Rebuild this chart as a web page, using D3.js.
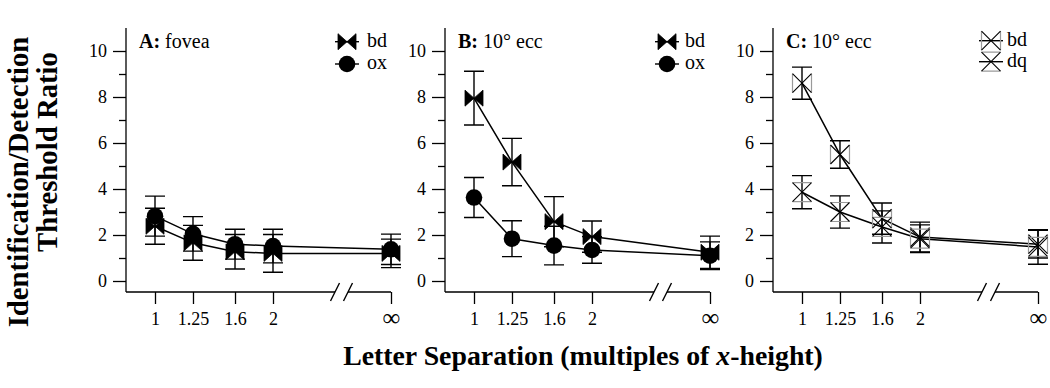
<!DOCTYPE html>
<html><head><meta charset="utf-8">
<script src="https://cdn.jsdelivr.net/npm/d3@7"></script>
<style>
body{margin:0;background:#fff}
svg{display:block}
text{font-family:"Liberation Serif","DejaVu Serif",serif;fill:#000}
</style>
</head><body>
<svg id="chart" width="1050" height="388"></svg>
<script>
// ---------- data ----------
const categories = ["1", "1.25", "1.6", "2", "\u221E"];
const xPositions = [1, 1.25, 1.6, 2, 4];   // "∞" is drawn beyond the axis break
const breakValue = 3;
const yTickValues = [0,1,2,3,4,5,6,7,8,9,10];
const yLabelValues = [0,2,4,6,8,10];

const foveaBd    = [2.38, 1.66, 1.27, 1.20, 1.20];
const foveaBdErr = [0.78, 0.76, 0.75, 0.82, 0.62];
const foveaOx    = [2.82, 2.05, 1.60, 1.52, 1.38];
const foveaOxErr = [0.87, 0.75, 0.65, 0.73, 0.66];

const eccBd    = [7.95, 5.17, 2.58, 1.93, 1.25];
const eccBdErr = [1.17, 1.03, 1.09, 0.68, 0.70];
const eccOx    = [3.63, 1.84, 1.54, 1.35, 1.10];
const eccOxErr = [0.87, 0.78, 0.84, 0.58, 0.60];

const eccCBd    = [8.60, 5.50, 2.71, 1.91, 1.60];
const eccCBdErr = [0.70, 0.60, 0.68, 0.65, 0.60];
const eccCDq    = [3.86, 3.00, 2.35, 1.84, 1.48];
const eccCDqErr = [0.72, 0.70, 0.70, 0.60, 0.75];

const panelLetters = ["A:", "B:", "C:"];
const panelNames = ["fovea", "10\u00B0 ecc", "10\u00B0 ecc"];
const yTitle = ["Identification/Detection", "Threshold Ratio"];
const xTitleParts = ["Letter Separation (multiples of ", "x", "-height)"];

// ---------- layout ----------
const svg = d3.select("#chart");
const yTop = 28, xAxisY = 292;
const y = d3.scaleLinear().domain([0, 10]).range([281, 51]);

const panels = [
  {left: 126, legX: 221, legTX: 241, legY: [41.7, 64],
   series: [{name:"bd", v: foveaBd, e: foveaBdErr, m:"bowtieFilled"},
            {name:"ox", v: foveaOx, e: foveaOxErr, m:"circle"}]},
  {left: 445, legX: 222, legTX: 240, legY: [41.7, 64],
   series: [{name:"bd", v: eccBd, e: eccBdErr, m:"bowtieFilled"},
            {name:"ox", v: eccOx, e: eccOxErr, m:"circle"}]},
  {left: 773, legX: 218, legTX: 234, legY: [40.7, 61.7],
   series: [{name:"bd", v: eccCBd, e: eccCBdErr, m:"bowtieOpen"},
            {name:"dq", v: eccCDq, e: eccCDqErr, m:"hourglassOpen"}]}
];

function drawMarker(g, type, cx, cy) {
  const t = `translate(${cx},${cy})`;
  if (type === "bowtieFilled") {
    g.append("path").attr("transform", t)
      .attr("d", "M-9,-8L0,0L-9,8ZM9,-8L0,0L9,8Z")
      .attr("fill", "#000").attr("stroke", "#000").attr("stroke-width", 0.8).attr("stroke-linejoin","round");
  } else if (type === "circle") {
    g.append("circle").attr("transform", t).attr("r", 8.3).attr("fill", "#000");
  } else if (type === "bowtieOpen") {
    g.append("path").attr("transform", t).attr("d", "M-9.5,-9.5V9.5M9.5,-9.5V9.5")
      .attr("stroke", "#9a9a9a").attr("stroke-width", 1.2).attr("fill", "none");
    g.append("path").attr("transform", t).attr("d", "M-9.5,-9.5L9.5,9.5M-9.5,9.5L9.5,-9.5")
      .attr("stroke", "#000").attr("stroke-width", 1.1).attr("fill", "none");
  } else if (type === "hourglassOpen") {
    g.append("path").attr("transform", t).attr("d", "M-9.5,-9.5H9.5M-9.5,9.5H9.5")
      .attr("stroke", "#9a9a9a").attr("stroke-width", 1.2).attr("fill", "none");
    g.append("path").attr("transform", t).attr("d", "M-9.5,-9.5L9.5,9.5M-9.5,9.5L9.5,-9.5")
      .attr("stroke", "#000").attr("stroke-width", 1.1).attr("fill", "none");
  }
}

panels.forEach((p, pi) => {
  const g = svg.append("g");
  const x = d3.scaleLog().base(2).domain([1, 4]).range([p.left + 29, p.left + 265]);

  // y axis
  g.append("line").attr("x1", p.left).attr("x2", p.left).attr("y1", yTop).attr("y2", xAxisY)
    .attr("stroke", "#000").attr("stroke-width", 1.3);
  const ya = g.append("g").attr("transform", `translate(${p.left},0)`)
    .call(d3.axisLeft(y).tickValues(yTickValues).tickSize(13).tickPadding(6)
      .tickFormat(d => yLabelValues.includes(d) ? d : ""));
  ya.select(".domain").remove();
  ya.attr("font-size", 18);
  ya.selectAll(".tick line").attr("x2", d => yLabelValues.includes(d) ? -13 : -7)
    .attr("stroke", "#000").attr("stroke-width", 1.3);

  // x axis
  const xa = g.append("g").attr("transform", `translate(0,${xAxisY})`)
    .call(d3.axisBottom(x).tickValues(xPositions).tickSize(12).tickPadding(8)
      .tickFormat((d, i) => categories[i]));
  xa.select(".domain").remove();
  xa.attr("font-size", 18);
  xa.selectAll(".tick line").attr("stroke", "#000").attr("stroke-width", 1.3);
  xa.selectAll(".tick text").filter((d, i) => i === 4).attr("font-size", 25).attr("dy", "0.55em");

  const bx = x(breakValue);
  g.append("path").attr("d", `M${p.left},${xAxisY}H${bx - 7}M${bx + 6},${xAxisY}H${x(4)}`)
    .attr("stroke", "#000").attr("stroke-width", 1.3).attr("fill", "none");
  [bx - 7, bx + 6].forEach(cx => {
    g.append("line").attr("x1", cx - 4.5).attr("y1", xAxisY + 9).attr("x2", cx + 4.5).attr("y2", xAxisY - 9)
      .attr("stroke", "#000").attr("stroke-width", 1.4);
  });

  // panel label
  const lab = g.append("text").attr("x", p.left + 13).attr("y", 47.5).attr("font-size", 20);
  lab.append("tspan").attr("font-weight", "bold").text(panelLetters[pi]);
  lab.append("tspan").attr("dx", 5).text(panelNames[pi]);

  // lines
  const line = d3.line().x((d, i) => x(xPositions[i])).y(d => y(d));
  p.series.forEach(s => {
    g.append("path").datum(s.v).attr("d", line)
      .attr("fill", "none").attr("stroke", "#000").attr("stroke-width", 1.5);
  });
  // error bars
  p.series.forEach(s => {
    s.v.forEach((v, i) => {
      const cx = x(xPositions[i]);
      const y1 = y(v + s.e[i]), y2 = y(v - s.e[i]);
      g.append("path").attr("d", `M${cx},${y1}V${y2}M${cx - 10},${y1}H${cx + 10}M${cx - 10},${y2}H${cx + 10}`)
        .attr("stroke", "#000").attr("stroke-width", 1.4).attr("fill", "none");
    });
  });
  // markers
  p.series.forEach(s => {
    s.v.forEach((v, i) => drawMarker(g, s.m, x(xPositions[i]), y(v)));
  });

  // legend
  p.series.forEach((s, si) => {
    const lx = p.left + p.legX, ly = p.legY[si];
    g.append("line").attr("x1", lx - 12).attr("x2", lx + 12).attr("y1", ly).attr("y2", ly)
      .attr("stroke", "#000").attr("stroke-width", 1.4);
    drawMarker(g, s.m, lx, ly);
    g.append("text").attr("x", p.left + p.legTX).attr("y", ly + 5).attr("font-size", 20).text(s.name);
  });
});

// titles
function fitWidth(sel, target) {
  const len = sel.node().getComputedTextLength();
  const fs = +sel.attr("font-size");
  sel.attr("font-size", fs * target / len);
  return fs * target / len;
}
const yt2 = svg.append("text").attr("transform", "translate(57,152) rotate(-90)")
  .attr("text-anchor", "middle").attr("font-weight", "bold").attr("font-size", 22).text(yTitle[1]);
const yfs = fitWidth(yt2, 200);
svg.append("text").attr("transform", "translate(28,182) rotate(-90)")
  .attr("text-anchor", "middle").attr("font-weight", "bold").attr("font-size", yfs).text(yTitle[0]);

const xt = svg.append("text").attr("x", 583).attr("y", 365).attr("text-anchor", "middle")
  .attr("font-weight", "bold").attr("font-size", 22);
xt.append("tspan").text(xTitleParts[0]);
xt.append("tspan").attr("font-style", "italic").text(xTitleParts[1]);
xt.append("tspan").text(xTitleParts[2]);
fitWidth(xt, 480);
</script>
</body></html>
